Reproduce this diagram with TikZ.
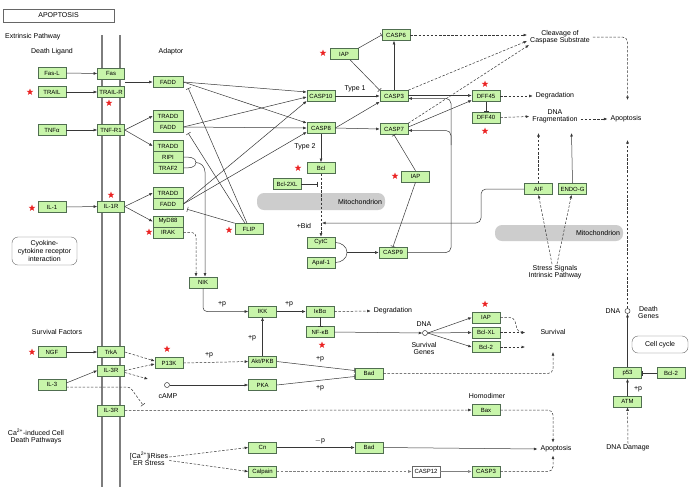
\documentclass[tikz,border=0pt]{standalone}
\usepackage{fontspec}
\setmainfont{Liberation Sans}
\usetikzlibrary{arrows.meta,shapes.geometric}
\definecolor{gfill}{RGB}{200,245,170}
\definecolor{gbord}{RGB}{80,110,80}
\definecolor{bandcol}{RGB}{205,205,205}
\definecolor{membcol}{RGB}{125,125,125}
\definecolor{lncol}{RGB}{55,55,55}
\definecolor{starcol}{RGB}{235,35,35}
\begin{document}
\begin{tikzpicture}[x=1pt,y=-1pt,
  gb/.style={draw=gbord,fill=gfill,minimum width=28pt,minimum height=11pt,inner sep=0pt,font=\fontsize{6}{6}\selectfont,line width=0.6pt},
  rb/.style={gb,minimum width=27pt},
  ab/.style={gb,minimum width=30pt},
  wb/.style={gb,fill=white,draw=black!60},
  lbl/.style={font=\fontsize{7}{8}\selectfont,inner sep=1pt,align=center},
  plbl/.style={font=\fontsize{7}{8}\selectfont,inner sep=0pt},
  band/.style={fill=bandcol,rounded corners=7pt,inner sep=3pt,align=right,font=\fontsize{7}{8}\selectfont},
  memb/.style={draw=membcol,line width=2.4pt},
  ln/.style={draw=lncol,line width=0.5pt},
  ar/.style={ln,-{Latex[length=3.5pt,width=2.8pt]}},
  dar/.style={ar,dash pattern=on 2.5pt off 1.6pt},
  gar/.style={ar,draw=gray},
  gdar/.style={dar,draw=gray},
  inh/.style={ln,-{Bar[width=5pt]}},
  dinh/.style={inh,dash pattern=on 2.5pt off 1.6pt},
  kstar/.style={star,star points=5,star point ratio=2.5,fill=starcol,inner sep=0pt,minimum size=7pt},
  dnac/.style={circle,draw=lncol,fill=white,minimum size=5pt,inner sep=0pt,line width=0.5pt},
  rbox/.style={draw=black!60,rounded corners=6pt,align=center,inner sep=0pt,font=\fontsize{7}{8}\selectfont}
]
\useasboundingbox (0,0) rectangle (692,491);
\fill[white] (0,0) rectangle (692,491);

% mitochondrion bands
\node[band,minimum width=128pt,minimum height=17pt,text width=122pt] (mito1) at (321,201.5) {Mitochondrion};
\node[band,minimum width=128pt,minimum height=16pt,text width=122pt] (mito2) at (559,233) {Mitochondrion};

% membrane
\draw[memb] (102,35) -- (102,487);
\draw[memb] (120,35) -- (120,487);

% title and labels
\node[draw=black!60,minimum width=111pt,minimum height=13pt,inner sep=0pt,font=\fontsize{7}{8}\selectfont] (title) at (58.5,15.5) {APOPTOSIS};
\node[lbl,anchor=west] (extr) at (4,37) {Extrinsic Pathway};
\node[lbl] (dlig) at (52,52) {Death Ligand};
\node[lbl] (adap) at (171,52) {Adaptor};
\node[lbl] (type1) at (355,89) {Type 1};
\node[lbl] (type2) at (305,147) {Type 2};
\node[lbl,inner sep=3pt] (cleav) at (560,37) {Cleavage of\\[-1pt]Caspase Substrate};
\node[lbl,inner sep=3pt] (degr1) at (555,96) {Degradation};
\node[lbl,inner sep=3pt] (dnafrag) at (555,116.5) {DNA\\[-1pt]Fragmentation};
\node[lbl,inner sep=3pt] (apo1) at (626,119) {Apoptosis};
\node[lbl] (bid) at (304,226) {+Bid};
\node[lbl] (stress) at (555,272) {Stress Signals\\[-1pt]Intrinsic Pathway};
\node[lbl] (dnaDt) at (613,311) {DNA};
\node[lbl,anchor=west] (dgenes) at (637,312) {Death\\[-1pt]Genes};
\node[rbox,minimum width=56pt,minimum height=17pt] (ccycle) at (660,344.5) {Cell cycle};
\node[rbox,minimum width=65pt,minimum height=28pt] (cyto) at (44.5,251) {Cyokine-\\cytokine receptor\\interaction};
\node[lbl] (survf) at (57,332) {Survival Factors};
\node[lbl,inner sep=3pt] (degr2) at (393,311) {Degradation};
\node[lbl] (dnaSt) at (424,324) {DNA};
\node[lbl] (sgenes) at (424,348) {Survival\\[-1pt]Genes};
\node[lbl] (surv) at (553,332) {Survival};
\node[lbl] (campt) at (168,396) {cAMP};
\node[lbl] (homod) at (487,396) {Homodimer};
\node[lbl] (cadeath) at (36,436.5) {Ca\textsuperscript{2+}-induced Cell\\[-1pt]Death Pathways};
\node[lbl] (ers) at (149,459) {[Ca\textsuperscript{2+}]iRises\\[-1pt]ER Stress};
\node[lbl,inner sep=3pt] (apo2) at (556,449) {Apoptosis};
\node[lbl] (dnadmg) at (628,448) {DNA Damage};
\node[plbl] (p1) at (222,304) {+p};
\node[plbl] (p2) at (289,304) {+p};
\node[plbl] (p3) at (252,338) {+p};
\node[plbl] (p4) at (209,355) {+p};
\node[plbl] (p5) at (320,359) {+p};
\node[plbl] (p6) at (320,388) {+p};
\node[plbl] (p7) at (638,389) {+p};
\node[plbl] (mp) at (320,441) {$-$p};

% ligands / receptors
\node[gb] (FasL) at (52,73) {Fas-L};
\node[gb] (TRAIL) at (52,92) {TRAIL};
\node[gb] (TNFa) at (52,130) {TNFα};
\node[gb] (IL1) at (52,207) {IL-1};
\node[gb] (NGF) at (52,352) {NGF};
\node[gb] (IL3) at (52,384.5) {IL-3};
\node[rb] (Fas) at (111,73.5) {Fas};
\node[rb] (TRAILR) at (111,92) {TRAIL-R};
\node[rb] (TNFR1) at (111,130) {TNF-R1};
\node[rb] (IL1R) at (111,206.5) {IL-1R};
\node[rb] (TrkA) at (111,352) {TrkA};
\node[rb] (IL3Ra) at (111,370.5) {IL-3R};
\node[rb] (IL3Rb) at (111,410.5) {IL-3R};

% adaptors
\node[ab] (FADDa) at (168,82) {FADD};
\node[ab] (TRADDa) at (168,116) {TRADD};
\node[ab] (FADDb) at (168,127) {FADD};
\node[ab] (TRADDb) at (168,146) {TRADD};
\node[ab] (RIPI) at (168,157) {RIPI};
\node[ab] (TRAF2) at (168,168) {TRAF2};
\node[ab] (TRADDc) at (168,193) {TRADD};
\node[ab] (FADDc) at (168,204) {FADD};
\node[ab] (MyD88) at (168,221.5) {MyD88};
\node[ab] (IRAK) at (168,232.5) {IRAK};

% caspases etc.
\node[gb] (CASP10) at (321,96) {CASP10};
\node[gb] (CASP8) at (321,128) {CASP8};
\node[gb] (IAPa) at (344,54) {IAP};
\node[gb] (CASP6) at (396,35) {CASP6};
\node[gb] (CASP3) at (394,96) {CASP3};
\node[gb] (CASP7) at (394,129) {CASP7};
\node[gb] (DFF45) at (486,96) {DFF45};
\node[gb] (DFF40) at (486,117.5) {DFF40};
\node[gb] (Bcl) at (321,168) {Bcl};
\node[gb] (Bcl2XL) at (287,184) {Bcl-2XL};
\node[gb] (CytC) at (321,242.5) {CytC};
\node[gb] (Apaf1) at (321,262.5) {Apaf-1};
\node[gb] (CASP9) at (393,252.5) {CASP9};
\node[gb] (IAPb) at (415.5,176.5) {IAP};
\node[gb] (AIF) at (538.5,189) {AIF};
\node[gb] (ENDOG) at (572.5,189) {ENDO-G};
\node[gb] (FLIP) at (249,229) {FLIP};
\node[gb] (NIK) at (203,282.5) {NIK};
\node[gb] (IKK) at (262.5,311.5) {IKK};
\node[gb] (IkBa) at (320,311.5) {IκBα};
\node[gb] (NFkB) at (320,332) {NF-κB};
\node[gb] (P13K) at (169,363) {P13K};
\node[gb] (Akt) at (262.5,361.5) {Akt/PKB};
\node[gb] (PKA) at (262.5,385) {PKA};
\node[gb] (Bada) at (369,373.5) {Bad};
\node[gb] (IAPc) at (486,317.5) {IAP};
\node[gb] (BclXL) at (486,332.5) {Bcl-XL};
\node[gb] (Bcl2a) at (486,347) {Bcl-2};
\node[gb] (Bax) at (486,410) {Bax};
\node[gb] (Cn) at (262.5,447.5) {Cn};
\node[gb] (Calpain) at (262.5,471.5) {Calpain};
\node[gb] (Badb) at (369,447.5) {Bad};
\node[wb] (CASP12) at (426,471.5) {CASP12};
\node[gb] (CASP3b) at (486,471.5) {CASP3};
\node[gb] (p53) at (627.5,373) {p53};
\node[gb] (Bcl2b) at (671,373) {Bcl-2};
\node[gb] (ATM) at (627.5,401.5) {ATM};

% small circles
\node[dnac] (dnaS) at (425,333) {};
\node[dnac] (dnaD) at (627.5,311) {};
\node[dnac] (camp) at (167,385) {};

% stars
\foreach \n/\p in {s1/{(30,92)},s2/{(109,103)},s3/{(111,195)},s4/{(32,208)},s5/{(149,232)},s6/{(229,230)},s7/{(323,53)},s8/{(298,168)},s9/{(395,176)},s10/{(485,84)},s11/{(485,131)},s12/{(485,304)},s13/{(322,345)},s14/{(167,349)},s15/{(32,352)}}
  \node[kstar] (\n) at \p {};

% coordinates for free ends
\coordinate (fasout) at (125,82);
\coordinate (bidin) at (322,223);
\coordinate (bclt) at (317,184);
\coordinate (brk) at (196,162.5);
\coordinate (brk2) at (347,252.5);
\coordinate (apotop) at (627.5,100);
\coordinate (apobot) at (627.5,140);
\coordinate (dfin1) at (538.5,133);
\coordinate (dfin2) at (571.5,133);
\coordinate (survin1) at (525,332.5);
\coordinate (survin2) at (525,347);
\coordinate (survb) at (553,352);
\coordinate (campin) at (148,379);
\coordinate (il3t) at (143,405);

% ligand -> receptor
\draw[ar] (FasL.east) -- (Fas.west);
\draw[ar] (TRAIL.east) -- (TRAILR.west);
\draw[ar] (TNFa.east) -- (TNFR1.west);
\draw[ar] (IL1.east) -- (IL1R.west);
\draw[ar] (NGF.east) -- (TrkA.west);
\draw[ar] ([yshift=1.5pt]IL3.east) -- (IL3Ra.west);

% receptor -> adaptor
\draw[ar] (fasout) -- (FADDa.west);
\draw[ar] (TNFR1.east) -- (TRADDa.west);
\draw[ar] (TNFR1.east) -- (TRADDb.west);
\draw[ar] (IL1R.east) -- (TRADDc.west);
\draw[ar] (IL1R.east) -- (MyD88.west);

% FADD -> caspases
\draw[ar] (FADDa.east) -- ([yshift=4pt]CASP10.west);
\draw[ar] (FADDa.east) -- ([yshift=5pt]CASP8.west);
\draw[ar] (FADDb.east) -- ([yshift=-1pt]CASP10.west);
\draw[ar] (FADDb.east) -- (CASP8.west);
\draw[ar] (FADDc.east) -- ([yshift=-5pt]CASP10.west);
\draw[ar] (FADDc.east) -- ([yshift=-4pt]CASP8.west);

% FLIP inhibitions
\draw[inh] ([xshift=-2pt]FLIP.north) -- ([shift={(5,0.5)}]FADDa.south east);
\draw[inh] ([xshift=-4pt]FLIP.north) -- ([shift={(5,0.5)}]FADDb.south east);
\draw[inh] (FLIP.north west) -- ([shift={(4,-0.5)}]FADDc.south east);

% RIP/TRAF2 and IRAK -> NIK
\draw[ln] (RIPI.east) to[out=0,in=90] (brk) to[out=-90,in=0] (TRAF2.east);
\draw[ar] (brk) to[out=0,in=90] (205,172) -- ([xshift=2pt]NIK.north);
\draw[dar,rounded corners=4pt] (IRAK.east) -| ([xshift=-7pt]NIK.north);

% NF-kB axis
\draw[ar,rounded corners=4pt] (NIK.south) |- (IKK.west);
\draw[ar] (IKK.east) -- (IkBa.west);
\draw[dar] (IkBa.east) -- (degr2.west);
\draw[inh] (IkBa.south) -- (NFkB.north);
\draw[ar] (NFkB.east) -- (dnaS.west);
\draw[ar] (dnaS.east) -- (IAPc.west);
\draw[ar] (dnaS.east) -- (BclXL.west);
\draw[ar] (dnaS.east) -- (Bcl2a.west);
\draw[dar,rounded corners=4pt] (IAPc.east) -- (514,317.5) -- (518,332.5) -- (survin1);
\draw[dar] (BclXL.east) -- (survin1);
\draw[dar] (Bcl2a.east) -- (survin2);

% survival factors
\draw[dar] (TrkA.east) -- ([yshift=2pt]P13K.west);
\draw[dar] (IL3Ra.east) -- ([yshift=-1pt]P13K.west);
\draw[dar] ([yshift=-2pt]IL3Ra.east) -- (campin);
\draw[dinh,rounded corners=3pt] ([yshift=-2.5pt]IL3.east) -- (130,387) -- (il3t);
\draw[dar] (P13K.east) -- (Akt.west);
\draw[ar] (camp.east) -- (PKA.west);
\draw[ar] (Akt.north) -- (IKK.south);
\draw[inh] (Akt.east) -- ([yshift=3pt]Bada.west);
\draw[inh] (PKA.east) -- ([yshift=-3pt]Bada.west);
\draw[dar,rounded corners=5pt] (Bada.east) -| (survb);

% Ca2+ / IL-3R branch
\draw[dar] (IL3Rb.east) -- (Bax.west);
\draw[dar,rounded corners=5pt] (Bax.east) -| ([xshift=-3pt]apo2.north);
\draw[ar] (Badb.east) -- (apo2.west);
\draw[dar,rounded corners=5pt] (CASP3b.east) -| ([xshift=-3pt]apo2.south);
\draw[ar] (Cn.east) -- (Badb.west);
\draw[gdar] (Calpain.east) -- (CASP12.west);
\draw[gar] (CASP12.east) -- (CASP3b.west);
\draw[dar] ([yshift=2pt]ers.east) -- (Cn.west);
\draw[dar] ([yshift=-1.5pt]ers.east) -- (Calpain.west);

% p53
\draw[ar] (ATM.north) -- (p53.south);
\draw[dar] (dnadmg.north) -- (ATM.south);
\draw[inh] (Bcl2b.west) -- (p53.east);
\draw[ar] (p53.north) -- (dnaD.south);
\draw[dar] (dnaD.north) -- (apobot);

% caspase cascade
\draw[ar] (CASP10.east) -- (CASP3.west);
\draw[ar] (CASP8.east) -- (CASP3.south west);
\draw[ar] (CASP8.east) -- (CASP7.west);
\draw[ar] (CASP3.north) -- (CASP3.north |- CASP6.south);
\draw[inh] (IAPa.north east) -- (CASP6.west);
\draw[inh] ([xshift=6pt]IAPa.south) -- (CASP3.north west);
\draw[dar] (CASP6.east) -- ([yshift=2pt]cleav.west);
\draw[dar] (CASP3.north east) -- ([yshift=-4pt]cleav.west);
\draw[dar] (CASP7.north east) -- ([shift={(2,8)}]cleav.west);
\draw[ar] ([yshift=0.5pt]CASP3.east) -- ([yshift=0.5pt]DFF45.west);
\draw[ar] ([yshift=2pt]CASP7.east) -- ([yshift=1.5pt]DFF45.south west);
\draw[inh] (DFF45.south) -- (DFF40.north);
\draw[dar] (DFF45.east) -- (degr1.west);
\draw[dar] (DFF40.east) -- (dnafrag.west);
\draw[dar] (dnafrag.east |- apo1.west) -- (apo1.west);
\draw[dar,rounded corners=5pt] (cleav.east) -| (apotop);
\draw[ar,rounded corners=5pt] (CASP9.east) -- (451,252.5) -- (451,98.5) -- ([yshift=-2.5pt]CASP3.east);
\draw[ar,rounded corners=5pt] (451,145) -- (451,130.5) -- ([yshift=-1.5pt]CASP7.east);

% mitochondrial pathway
\draw[ar] (CASP8.south) -- (Bcl.north);
\draw[dar] (Bcl.south) -- (CytC.north);
\draw[inh] (Bcl2XL.east) -- (bclt);
\draw[ar,rounded corners=5pt] (AIF.west) -| (481,223) -- (bidin);
\draw[ln] (CytC.east) to[out=0,in=90] (brk2) to[out=-90,in=0] (Apaf1.east);
\draw[ar] (brk2) -- (CASP9.west);
\draw[inh] (IAPb.south) -- (CASP9.north);
\draw[inh] (IAPb.north) -- (CASP7.south);
\draw[dar] (AIF.north) -- (dfin1);
\draw[ar] (ENDOG.north) -- (dfin2);
\draw[dar] ([xshift=-3pt]stress.north) -- (AIF.south);
\draw[dar] ([xshift=2pt]stress.north) -- ([xshift=-1pt]ENDOG.south);
\end{tikzpicture}
\end{document}
